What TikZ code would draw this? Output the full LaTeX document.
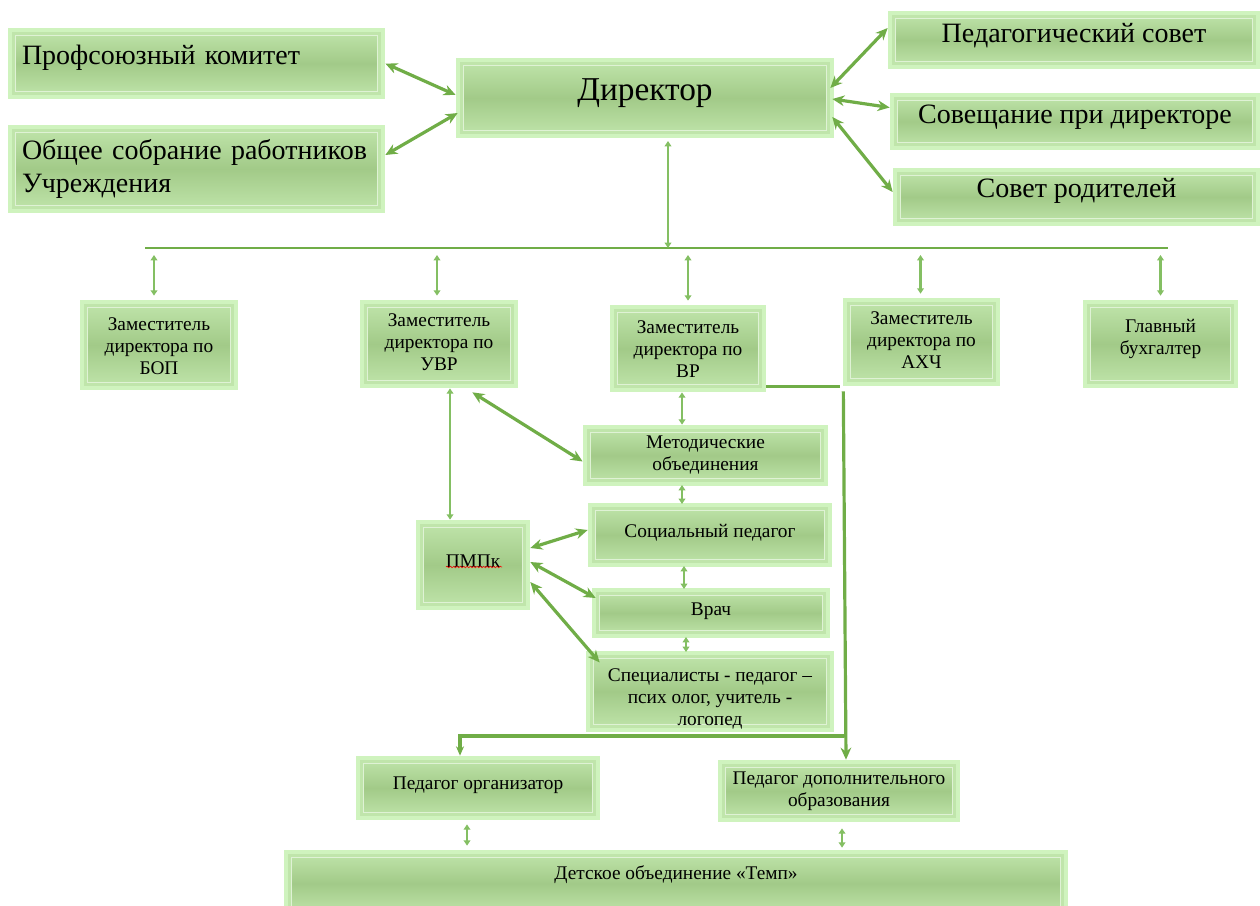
\documentclass[tikz,border=0pt]{standalone}
\usepackage{fontspec}
\setmainfont{Liberation Serif}
\usetikzlibrary{arrows.meta,calc,decorations.pathmorphing}
\definecolor{glow}{HTML}{CFF3BE}
\definecolor{boxmid}{HTML}{A2CA88}
\definecolor{boxedge}{HTML}{C0E5AB}
\definecolor{arr}{HTML}{70AD47}
\definecolor{arrlight}{HTML}{84BF63}
\newcommand\ml[1]{\begin{tabular}{@{}c@{}}#1\end{tabular}}
\newcommand\sh[2]{\raisebox{#1}[\height][\depth]{#2}}
\newcommand\gb[7][]{\node[gbox,minimum width={(#5-#3)*0.75pt},minimum height={(#6-#4)*0.75pt},#1] (#2) at ({(#3+#5)/2},{(#4+#6)/2}) {#7};}
\tikzset{
 gbox/.style={rectangle, draw=glow, line width=3.5pt, fill=boxedge, inner sep=0pt, align=center,
   font=\fontsize{14.5}{16.5}\selectfont,
   path picture={
     \shade[top color=boxedge, bottom color=boxedge, middle color=boxmid]
       ([shift={(4pt,-4pt)}]path picture bounding box.north west) rectangle ([shift={(-4pt,4pt)}]path picture bounding box.south east);
     \draw[white!50!boxedge, line width=0.7pt]
       ([shift={(4pt,-4pt)}]path picture bounding box.north west) rectangle ([shift={(-4pt,4pt)}]path picture bounding box.south east);}},
 bigtext/.style={font=\fontsize{21}{25}\selectfont},
 dirtext/.style={font=\fontsize{25}{30}\selectfont},
 link/.style={draw=arr, line width=2.4pt, {Stealth[length=9pt,width=8pt]}-{Stealth[length=9pt,width=8pt]}},
 thinarr/.style={draw=arrlight, line width=2pt, {Triangle[length=4pt,width=5pt]}-{Triangle[length=4pt,width=5pt]}},
 bar/.style={draw=arr, line width=2.4pt},
}
\begin{document}
\begin{tikzpicture}[x=0.75pt,y=-0.75pt]
\useasboundingbox (0,0) rectangle (1260,906);
% top level
\gb[bigtext,text width={349*0.75pt},align=left]{prof}{10}{30}{383}{97}{\sh{4.25pt}{Профсоюзный комитет}}
\gb[bigtext,text width={349*0.75pt},align=left]{obsh}{10}{127}{383}{211}{Общее собрание работников\\Учреждения}
\gb[dirtext]{dir}{458}{60}{832}{136}{\sh{4pt}{Директор}}
\gb[bigtext]{ped}{890}{13}{1258}{67}{\sh{3.25pt}{Педагогический совет}}
\gb[bigtext]{sov}{892}{95}{1258}{148}{\sh{3.25pt}{Совещание при директоре}}
\gb[bigtext]{rod}{895}{170}{1258}{224}{\sh{4.25pt}{Совет родителей}}
% deputies
\gb{bop}{82}{302}{236}{388}{\sh{-2.25pt}{\ml{Заместитель\\директора по\\БОП}}}
\gb{uvr}{362}{302}{516}{386}{\ml{Заместитель\\директора по\\УВР}}
\gb{vr}{612}{307}{764}{390}{\sh{-2.25pt}{\ml{Заместитель\\директора по\\ВР}}}
\gb{ahch}{845}{300}{998}{384}{\ml{Заместитель\\директора по\\АХЧ}}
\gb{buh}{1085}{302}{1236}{386}{\sh{3.75pt}{\ml{Главный\\бухгалтер}}}
% middle
\gb{met}{585}{427}{826}{484}{\ml{Методические\\объединения}}
\gb{soc}{590}{505}{830}{565}{\sh{1.5pt}{Социальный педагог}}
\gb{pmpk}{418}{522}{528}{608}{\sh{3pt}{ПМПк}}
\gb{vrach}{594}{590}{828}{636}{\sh{1.5pt}{Врач}}
\gb{spec}{588}{653}{832}{730}{\sh{-6pt}{\ml{Специалисты - педагог –\\псих олог, учитель -\\логопед}}}
\gb{porg}{358}{758}{598}{818}{\sh{2pt}{Педагог организатор}}
\gb{pdo}{720}{762}{958}{820}{\ml{Педагог дополнительного\\образования}}
\gb{det}{286}{852}{1066}{915}{\sh{6.5pt}{Детское объединение «Темп»}}
% spell-check underline
\draw[red, line width=0.4pt, decorate, decoration={snake, amplitude=0.6pt, segment length=2.5pt}] (446,567) -- (502,567);
% links around director
\draw[link] (prof.east) -- ([shift={(0,-3)}]dir.west);
\draw[link] ([shift={(0,-14)}]obsh.east) -- ([shift={(2,15)}]dir.west);
\draw[link] ([shift={(-4,-10)}]dir.east) -- ([shift={(0,-12)}]ped.west);
\draw[link] ([shift={(-2,1)}]dir.east) -- ([shift={(0,-14)}]sov.west);
\draw[link] ([shift={(-2,19)}]dir.east) -- ([shift={(0,-5)}]rod.west);
% bus
\coordinate (busL) at (145,248);
\coordinate (busR) at (1168,248);
\draw[bar, line width=2pt] (busL) -- (busR);
\draw[thinarr, line width=1.5pt, shorten <=2pt] ([shift={(23,0)}]dir.south) -- ([shift={(23,0)}]dir.south |- busL);
\foreach \n/\dx in {bop/-5, uvr/-2, vr/0, ahch/-1, buh/0}
  \draw[thinarr, shorten <=5.25pt, shorten >=3pt] ([shift={(\dx,0)}]\n.north |- busL) -- ([shift={(\dx,0)}]\n.north);
% UVR branch
\draw[thinarr, line width=1.4pt] ([shift={(11,0)}]uvr.south) -- ([shift={(11,0)}]uvr.south |- pmpk.north);
\draw[link] ([shift={(-46,4)}]uvr.south east) -- ([shift={(0,6)}]met.west);
% VR column
\draw[thinarr] ([shift={(-6,0)}]vr.south) -- ([shift={(-6,0)}]vr.south |- met.north);
\draw[thinarr, shorten <=-1pt, shorten >=-1pt] ([shift={(-23.5,0)}]met.south) -- ([shift={(-23.5,0)}]met.south |- soc.north);
\draw[thinarr, shorten <=-1pt, shorten >=-1pt] ([shift={(-26,0)}]soc.south) -- ([shift={(-26,0)}]soc.south |- vrach.north);
\draw[thinarr, shorten <=-1pt, shorten >=-1pt] ([shift={(-25,0)}]vrach.south) -- ([shift={(-25,0)}]vrach.south |- spec.north);
% PMPk links
\draw[link] ([shift={(0,-17)}]pmpk.east) -- ([shift={(0,-5)}]soc.west);
\draw[link] ([shift={(0,-3)}]pmpk.east) -- ([shift={(4,-15)}]vrach.west);
\draw[link] ([shift={(0,17)}]pmpk.east) -- ([shift={(14,-29)}]spec.west);
% VR to additional education
\draw[bar] ([shift={(0,-6)}]vr.south east) -- ++(74,0) coordinate (vrc);
\draw[bar, -{Stealth[length=9pt,width=8pt]}] ([shift={(3,5)}]vrc) -- ([shift={(7,0)}]pdo.north);
\coordinate (jn) at (844,736);
\draw[bar, -{Stealth[length=7pt,width=6pt]}] (jn) -- ([shift={(-18,0)}]porg.north |- jn) -- ([shift={(-18,0)}]porg.north);
% bottom
\draw[thinarr, shorten <=3pt, shorten >=3pt] ([shift={(-11,0)}]porg.south) -- ([shift={(-11,0)}]porg.south |- det.north);
\draw[thinarr, shorten <=4.5pt, shorten >=1.5pt] ([shift={(3,0)}]pdo.south) -- ([shift={(3,0)}]pdo.south |- det.north);
\end{tikzpicture}
\end{document}
